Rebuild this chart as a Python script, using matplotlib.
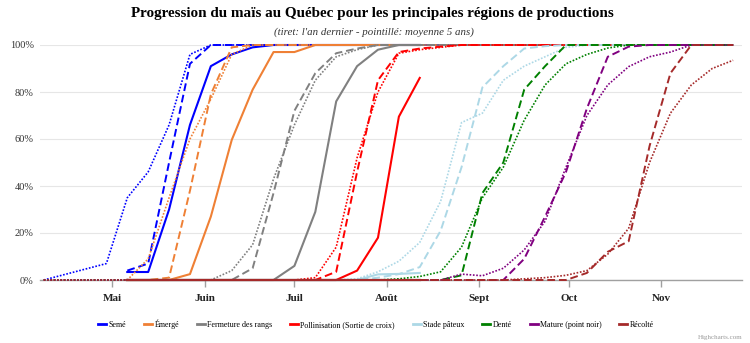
import numpy as np
import pandas as pd
import matplotlib
matplotlib.use('Agg')
import matplotlib.pyplot as plt
from matplotlib.lines import Line2D


# Semaines d'observation
dates_an = pd.date_range('2023-05-06', '2023-08-12', freq='7D')
dates_dernier = pd.date_range('2023-05-06', '2023-11-25', freq='7D')
dates_moy = pd.DatetimeIndex(['2023-04-08']).append(pd.date_range('2023-04-29', '2023-11-25', freq='7D'))

stades = ['Semé', 'Émergé', 'Fermeture des rangs', 'Pollinisation (Sortie de croix)',
          'Stade pâteux', 'Denté', 'Mature (point noir)', 'Récolté']
couleurs = ['#0000ff', '#ef8035', '#808080', '#ff0000', '#add8e6', '#008000', '#800080', '#a52a2a']

mois = ['2023-05-01', '2023-06-01', '2023-07-01', '2023-08-01', '2023-09-01', '2023-10-01', '2023-11-01']
mois_labels = ['Mai', 'Juin', 'Juil', 'Août', 'Sept', 'Oct', 'Nov']

# Cette année (trait plein)
seme_an = [3.4, 3.4, 30, 66, 91, 96, 99, 100, 100, 100, 100, 100, 100, 100, 100]
emerge_an = [0, 0, 0, 2.5, 27, 59.6, 81, 97, 97, 100, 100, 100, 100, 100, 100]
fermeture_an = [0, 0, 0, 0, 0, 0, 0, 0, 6, 29, 76, 91, 98, 100, 100]
pollinisation_an = [0, 0, 0, 0, 0, 0, 0, 0, 0, 0, 0, 4, 18, 69.5, 86]
pateux_an = [0, 0, 0, 0, 0, 0, 0, 0, 0, 0, 0, 0, 2.4, 2.6, 3]
dente_an = [0, 0, 0, 0, 0, 0, 0, 0, 0, 0, 0, 0, 0, 0, 0]
mature_an = [0, 0, 0, 0, 0, 0, 0, 0, 0, 0, 0, 0, 0, 0, 0]
recolte_an = [0, 0, 0, 0, 0, 0, 0, 0, 0, 0, 0, 0, 0, 0, 0]

# L'an dernier (tiret)
seme_dernier = [4, 7, 50, 92, 100, 100, 100, 100, 100, 100,
                100, 100, 100, 100, 100, 100, 100, 100, 100, 100,
                100, 100, 100, 100, 100, 100, 100, 100, 100, 100]
emerge_dernier = [0, 0, 1, 38, 79, 99, 100, 100, 100, 100,
                  100, 100, 100, 100, 100, 100, 100, 100, 100, 100,
                  100, 100, 100, 100, 100, 100, 100, 100, 100, 100]
fermeture_dernier = [0, 0, 0, 0, 0, 0, 5, 37, 72, 88,
                     96.5, 98.5, 100, 100, 100, 100, 100, 100, 100, 100,
                     100, 100, 100, 100, 100, 100, 100, 100, 100, 100]
pollinisation_dernier = [0, 0, 0, 0, 0, 0, 0, 0, 0, 0,
                         3.5, 46, 85, 97, 98.5, 99.3, 100, 100, 100, 100,
                         100, 100, 100, 100, 100, 100, 100, 100, 100, 100]
pateux_dernier = [0, 0, 0, 0, 0, 0, 0, 0, 0, 0,
                  0, 0, 1, 2.5, 5.5, 21, 48, 82, 91, 98.5,
                  99.5, 100, 100, 100, 100, 100, 100, 100, 100, 100]
dente_dernier = [0, 0, 0, 0, 0, 0, 0, 0, 0, 0,
                 0, 0, 0, 0, 0, 0, 2, 37, 50, 81,
                 91, 100, 100, 100, 100, 100, 100, 100, 100, 100]
mature_dernier = [0, 0, 0, 0, 0, 0, 0, 0, 0, 0,
                  0, 0, 0, 0, 0, 0, 0, 0, 0, 9,
                  27, 46, 73, 95, 99.3, 100, 100, 100, 100, 100]
recolte_dernier = [0, 0, 0, 0, 0, 0, 0, 0, 0, 0,
                   0, 0, 0, 0, 0, 0, 0, 0, 0, 0,
                   0, 0, 3, 12, 16.5, 57, 88, 100, 100, 100]

# Moyenne 5 ans (pointillé)
seme_moy = [0, 7, 35, 46, 66, 96, 100, 100, 100, 100, 100,
            100, 100, 100, 100, 100, 100, 100, 100, 100, 100,
            100, 100, 100, 100, 100, 100, 100, 100, 100, 100, 100]
emerge_moy = [0, 0, 0, 9, 35, 60, 77, 96, 100, 100, 100,
              100, 100, 100, 100, 100, 100, 100, 100, 100, 100,
              100, 100, 100, 100, 100, 100, 100, 100, 100, 100, 100]
fermeture_moy = [0, 0, 0, 0, 0, 0, 0, 4, 15, 43, 66,
                 85, 95, 98, 100, 100, 100, 100, 100, 100, 100,
                 100, 100, 100, 100, 100, 100, 100, 100, 100, 100, 100]
pollinisation_moy = [0, 0, 0, 0, 0, 0, 0, 0, 0, 0, 0,
                     1, 14, 52, 80, 96.5, 98, 99, 100, 100, 100,
                     100, 100, 100, 100, 100, 100, 100, 100, 100, 100, 100]
pateux_moy = [0, 0, 0, 0, 0, 0, 0, 0, 0, 0, 0,
              0, 0, 0.5, 3.5, 8, 16, 33.5, 67, 71, 85,
              91, 95, 99, 100, 100, 100, 100, 100, 100, 100, 100]
dente_moy = [0, 0, 0, 0, 0, 0, 0, 0, 0, 0, 0,
             0, 0, 0, 0, 0.5, 1.5, 3.5, 14, 35, 48,
             68, 83, 92, 96, 98.7, 100, 100, 100, 100, 100, 100]
mature_moy = [0, 0, 0, 0, 0, 0, 0, 0, 0, 0, 0,
              0, 0, 0, 0, 0, 0, 0, 2.5, 1.8, 5,
              12.8, 25, 48, 70, 83, 90.8, 95, 97, 100, 100, 100]
recolte_moy = [0, 0, 0, 0, 0, 0, 0, 0, 0, 0, 0,
               0, 0, 0, 0, 0, 0, 0, 0, 0, 0,
               0.5, 1, 2, 4, 11, 22, 50, 71, 83, 90, 93.5]

series_an = [seme_an, emerge_an, fermeture_an, pollinisation_an,
             pateux_an, dente_an, mature_an, recolte_an]
series_dernier = [seme_dernier, emerge_dernier, fermeture_dernier, pollinisation_dernier,
                  pateux_dernier, dente_dernier, mature_dernier, recolte_dernier]
series_moy = [seme_moy, emerge_moy, fermeture_moy, pollinisation_moy,
              pateux_moy, dente_moy, mature_moy, recolte_moy]


def main():
    plt.rcParams['font.family'] = ['Liberation Serif', 'DejaVu Serif']

    fig = plt.figure(figsize=(7.5, 3.43), dpi=100)
    ax = fig.add_axes([40 / 750, 1 - 280 / 343, (741.7 - 40) / 750, (280 - 45) / 343])

    # Courbes : plein, tiret, pointillé
    for i, couleur in enumerate(couleurs):
        ax.plot(dates_an, series_an[i], color=couleur, lw=1.5, clip_on=False, zorder=3)
        ax.plot(dates_dernier, series_dernier[i], color=couleur, lw=1.4,
                linestyle=(0, (4, 2)), clip_on=False, zorder=3)
        ax.plot(dates_moy, series_moy[i], color=couleur, lw=1.2,
                linestyle=(0, (1, 1)), clip_on=False, zorder=3)

    ax.set_xlim(pd.Timestamp('2023-04-06 18:00'), pd.Timestamp('2023-11-27 21:00'))
    ax.set_ylim(0, 100)

    # Axes
    ax.set_yticks([0, 20, 40, 60, 80, 100])
    ax.set_yticklabels([f'{v}%' for v in [0, 20, 40, 60, 80, 100]], fontsize=7.5, color='#333333')
    ax.tick_params(axis='y', length=0, pad=4.5)
    ax.set_xticks(pd.to_datetime(mois))
    ax.set_xticklabels(mois_labels, fontsize=8, fontweight='bold', color='#222222')
    ax.tick_params(axis='x', length=5, width=1, color='#a0a0a0', pad=5)

    for cote in ['top', 'right', 'left']:
        ax.spines[cote].set_visible(False)
    ax.spines['bottom'].set_color('#a0a0a0')
    ax.spines['bottom'].set_linewidth(1)
    ax.yaxis.grid(True, color='#e6e6e6', lw=0.8)
    ax.set_axisbelow(True)

    # Titres
    fig.text(0.497, 1 - 14 / 343, 'Progression du maïs au Québec pour les principales régions de productions',
             ha='center', va='center', fontsize=10.9, fontweight='bold')
    fig.text(0.499, 1 - 32 / 343, "(tiret: l'an dernier - pointillé: moyenne 5 ans)",
             ha='center', va='center', fontsize=7.8, style='italic', color='#333333')

    # Légende
    poignees = [Line2D([0], [0], color=c, lw=2) for c in couleurs]
    fig.legend(poignees, stades, loc='center', bbox_to_anchor=(376 / 750, 1 - 324 / 343),
               ncol=8, frameon=False, prop={'size': 5.8}, handlelength=1.0,
               handletextpad=0.3, columnspacing=2.2)

    fig.text(742 / 750, 1 - 338 / 343, 'Highcharts.com', ha='right', va='center',
             fontsize=5, color='#999999')

    fig.savefig('out.png', dpi=100)


if __name__ == '__main__':
    main()
